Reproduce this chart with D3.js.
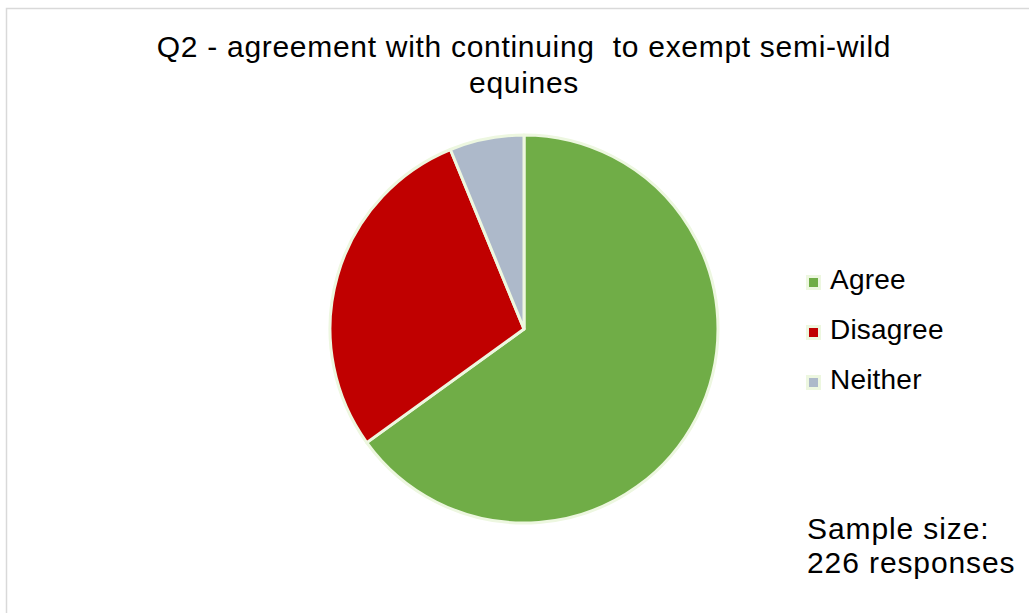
<!DOCTYPE html>
<html>
<head>
<meta charset="utf-8">
<script src="https://cdn.jsdelivr.net/npm/d3@7"></script>
<style>
  html, body { margin: 0; padding: 0; background: #fff; }
  svg { display: block; font-family: "Liberation Sans", Arial, sans-serif; }
</style>
</head>
<body>
<svg id="chart" width="1029" height="613"></svg>
<script>
// Survey responses to Q2
const categories = ["Agree", "Disagree", "Neither"];
const responses = [147, 65, 14];
const colors = ["#70AD47", "#C00000", "#ADB9CA"];
const titleLines = ["Q2 - agreement with continuing  to exempt semi-wild", "equines"];
const noteLines = ["Sample size:", "226 responses"];

const svg = d3.select("#chart");

// chart frame
svg.append("rect")
  .attr("x", 6.5).attr("y", 8.5)
  .attr("width", 1040).attr("height", 620)
  .attr("fill", "#fff")
  .attr("stroke", "#d9d9d9").attr("stroke-width", 1.5);

// title
svg.append("text")
  .attr("text-anchor", "middle")
  .attr("font-size", 30)
  .attr("letter-spacing", 0.7)
  .attr("fill", "#000")
  .style("white-space", "pre")
  .selectAll("tspan").data(titleLines).join("tspan")
  .attr("x", 524)
  .attr("y", (d, i) => 56.5 + i * 36)
  .text(d => d);

// pie
const cx = 524, cy = 329, radius = 194;
const color = d3.scaleOrdinal().domain(categories).range(colors);
const pie = d3.pie().sort(null).value(d => d.value);
const arc = d3.arc().innerRadius(0).outerRadius(radius);
const data = categories.map((c, i) => ({ name: c, value: responses[i] }));

svg.append("g")
  .attr("transform", `translate(${cx},${cy})`)
  .selectAll("path").data(pie(data)).join("path")
  .attr("d", arc)
  .attr("fill", d => color(d.data.name))
  .attr("stroke", "#EDF7E0")
  .attr("stroke-width", 3)
  .attr("stroke-linejoin", "round");

// legend
const legend = svg.append("g").attr("transform", "translate(807,289)");
const item = legend.selectAll("g").data(categories).join("g")
  .attr("transform", (d, i) => `translate(0,${i * 50})`);
item.append("rect")
  .attr("x", 0.5).attr("y", -12.5)
  .attr("width", 12).attr("height", 12)
  .attr("fill", d => color(d))
  .attr("stroke", "#EDF7E0").attr("stroke-width", 3);
item.append("text")
  .attr("x", 23).attr("y", 0)
  .attr("font-size", 28)
  .attr("letter-spacing", 0.2)
  .attr("fill", "#000")
  .text(d => d);

// sample size note
svg.append("text")
  .attr("font-size", 30)
  .attr("letter-spacing", 0.9)
  .attr("fill", "#000")
  .selectAll("tspan").data(noteLines).join("tspan")
  .attr("x", 807)
  .attr("y", (d, i) => 539 + i * 34)
  .text(d => d);
</script>
</body>
</html>
